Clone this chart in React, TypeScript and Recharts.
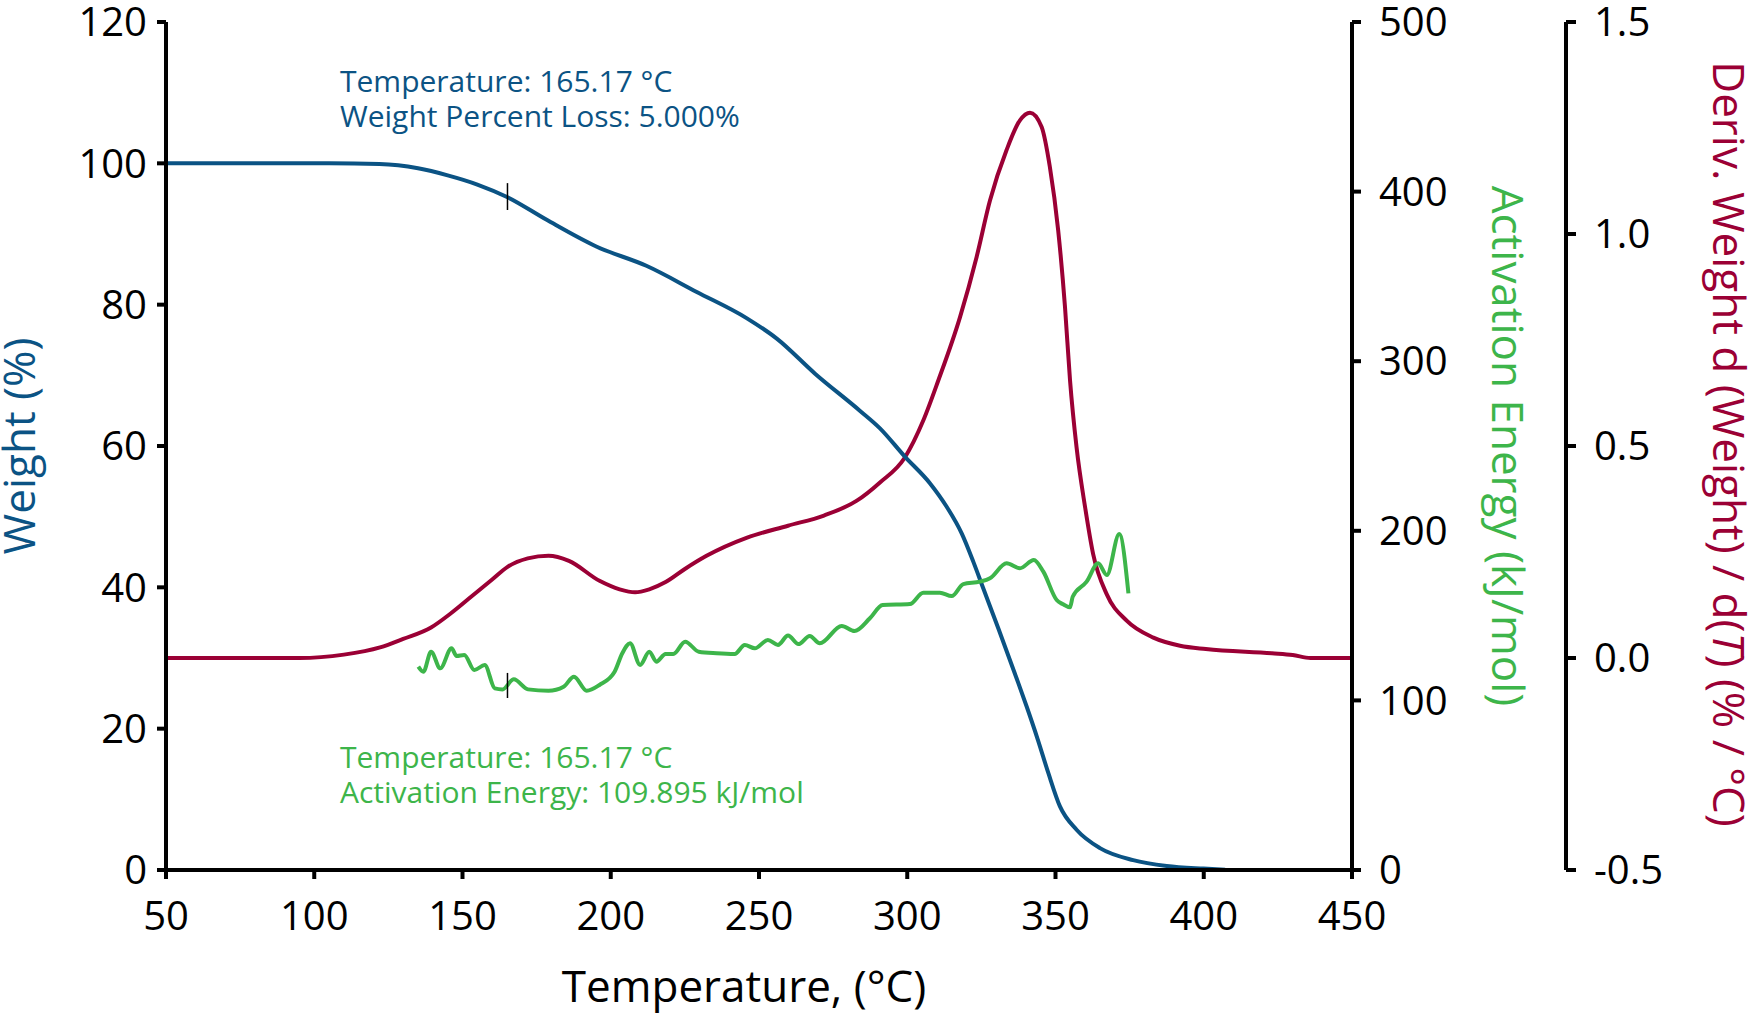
import React from "react";
import { ComposedChart, Line, XAxis, YAxis, ReferenceLine, Label } from "recharts";

const BLUE = "#0b5384";
const RED = "#9b0035";
const GREEN = "#3db54a";
const FONT = "'Open Sans', sans-serif";

const tempTicks = [50, 100, 150, 200, 250, 300, 350, 400, 450];
const weightTicks = [0, 20, 40, 60, 80, 100, 120];
const energyTicks = [0, 100, 200, 300, 400, 500];
const derivTicks = [-0.5, 0, 0.5, 1.0, 1.5];

// [temperature °C, weight %]
const weightCurve: [number, number][] = [
  [50, 100], [80, 100], [105, 100], [122, 99.9], [135, 99.3], [145, 98.3], [155, 97],
  [165.2, 95.2], [178.4, 92], [195.3, 88.2], [212, 85.5], [229, 81.8], [245.8, 78.1],
  [256, 75.2], [269, 70.2], [284, 65], [290.8, 62.5], [299.2, 58.5], [307.7, 54.7],
  [313.3, 51.4], [318.4, 47.6], [322.3, 43.6], [325.6, 39.9], [330.7, 34.2],
  [336.9, 27.1], [340.3, 23.1], [344, 18.5], [347.6, 13.7], [351.5, 9.0], [357.1, 5.7],
  [365, 3.1], [376.2, 1.4], [387.5, 0.57], [399.9, 0.2], [407.2, 0.05],
];

// [temperature °C, deriv. weight %/°C]
const derivCurve: [number, number][] = [
  [50, 0], [95, 0], [110, 0.008], [122.2, 0.025], [130, 0.045], [139.4, 0.072],
  [146, 0.105], [153, 0.145], [160, 0.185], [165.2, 0.215], [172, 0.235], [179, 0.241],
  [185.9, 0.229], [196.2, 0.182], [203, 0.162], [208.2, 0.155], [213, 0.162],
  [218.5, 0.179], [225, 0.21], [232.3, 0.241], [246, 0.284], [259.8, 0.312],
  [271.9, 0.336], [283, 0.371], [290.8, 0.414], [299.2, 0.473], [305.4, 0.56],
  [310.5, 0.655], [317.8, 0.804], [323.4, 0.946], [327.9, 1.079], [333.5, 1.198],
  [338, 1.268], [341.4, 1.286], [345.3, 1.253], [348.1, 1.158], [350.9, 1.009],
  [353.2, 0.828], [354.9, 0.655], [357.1, 0.497], [360, 0.355], [362.7, 0.245],
  [367.3, 0.15], [374, 0.088], [383, 0.048], [392, 0.029], [400.7, 0.021],
  [423, 0.011], [430, 0.007], [436, 0], [450, 0],
];

// [temperature °C, activation energy kJ/mol]
const energyCurve: [number, number][] = [
  [135.1, 119.9], [136.8, 116.9], [139.4, 128.7], [142.5, 118.9], [146.3, 130.7],
  [148, 126.2], [150.6, 126.8], [154, 117.9], [157.5, 120.9], [160.9, 107.1],
  [163.5, 106.5], [167.3, 112.4], [172.1, 106.5], [179, 105.7], [184.1, 108.1],
  [187.6, 114], [191.9, 105.7], [196.2, 109.1], [201.3, 116.9], [203.9, 127.8],
  [206.5, 133.7], [209.9, 120.9], [213, 128.7], [215.4, 122.8], [218.5, 127.4],
  [221.1, 127.4], [225.1, 134.6], [229.7, 128.7], [235.7, 127.8], [241.8, 127.4],
  [245.2, 132.7], [248.6, 130.7], [253, 135.6], [256.4, 132.7], [259.8, 138.2],
  [263.3, 133.2], [267.1, 138], [270.5, 133.7], [277.9, 143.9], [282.2, 140.9],
  [287.4, 148.4], [291.7, 156.2], [300.9, 156.8], [305.4, 163.5], [311, 163.5],
  [315, 161.5], [318.9, 168.6], [324.5, 170], [327.9, 172], [333.5, 180.8],
  [338, 177.9], [342.7, 182.8], [345.9, 175.9], [350.4, 159.2], [352.4, 156.8],
  [354.9, 154.9], [355.8, 161.1], [360.5, 170], [364.4, 180.8], [367.3, 173.9],
  [371.5, 198.1], [374.6, 163.1],
];

const markerTemp = 165.17;
const weightMarker = [97.2, 93.4];
const energyMarker = [116.2, 101.4];

const weightRows = weightCurve.map(([t, v]) => ({ t, weight: v }));
const derivRows = derivCurve.map(([t, v]) => ({ t, deriv: v }));
const energyRows = energyCurve.map(([t, v]) => ({ t, energy: v }));

const axisStroke = { stroke: "#000", strokeWidth: 4 };
const tickStyle = { fill: "#000", fontSize: 40, fontFamily: FONT };

const WeightLabel = ({ viewBox }: any) => {
  const x = viewBox.x + 35;
  const y = viewBox.y + viewBox.height / 2;
  return (
    <text x={x} y={y} transform={`rotate(-90 ${x} ${y})`} textAnchor="middle" fill={BLUE} fontSize={44} fontFamily={FONT}>
      Weight (%)
    </text>
  );
};

const EnergyLabel = ({ viewBox }: any) => {
  const x = viewBox.x + 140;
  const y = viewBox.y + viewBox.height / 2;
  return (
    <text x={x} y={y} transform={`rotate(90 ${x} ${y})`} textAnchor="middle" fill={GREEN} fontSize={44} fontFamily={FONT}>
      Activation Energy (kJ/mol)
    </text>
  );
};

const DerivLabel = ({ viewBox }: any) => {
  const x = viewBox.x + 147;
  const y = viewBox.y + viewBox.height / 2 - 2;
  return (
    <text x={x} y={y} transform={`rotate(90 ${x} ${y})`} textAnchor="middle" fill={RED} fontSize={44} fontFamily={FONT}>
      Deriv. Weight d (Weight) / d(<tspan fontStyle="italic">T</tspan>) (% / °C)
    </text>
  );
};

const TempLabel = ({ viewBox }: any) => {
  const x = viewBox.x + viewBox.width / 2 - 15;
  const y = 1002;
  return (
    <text x={x} y={y} textAnchor="middle" fill="#000" fontSize={44} fontFamily={FONT}>
      Temperature, (°C)
    </text>
  );
};

export default function App() {
  return (
    <div style={{ position: "absolute", left: 0, top: 0, width: 1750, height: 1019, background: "#fff", fontFamily: FONT }}>
      <ComposedChart width={1750} height={1019} margin={{ top: 22, right: 0, left: 0, bottom: 0 }}>
        <XAxis
          xAxisId="t"
          dataKey="t"
          type="number"
          domain={[50, 450]}
          ticks={tempTicks}
          interval={0}
          height={149}
          tickSize={9}
          tickMargin={23}
          axisLine={axisStroke}
          tickLine={axisStroke}
          tick={tickStyle}
          allowDataOverflow
        >
          <Label content={<TempLabel />} />
        </XAxis>
        <YAxis
          yAxisId="w"
          orientation="left"
          type="number"
          domain={[0, 120]}
          ticks={weightTicks}
          interval={0}
          width={166}
          tickSize={9}
          tickMargin={10}
          axisLine={axisStroke}
          tickLine={axisStroke}
          tick={tickStyle}
        >
          <Label content={<WeightLabel />} />
        </YAxis>
        <YAxis
          yAxisId="b"
          orientation="right"
          type="number"
          domain={[-0.5, 1.5]}
          ticks={derivTicks}
          interval={0}
          width={184}
          tickSize={10}
          tickMargin={18}
          axisLine={axisStroke}
          tickLine={axisStroke}
          tick={tickStyle}
          tickFormatter={(v: number) => v.toFixed(1)}
        >
          <Label content={<DerivLabel />} />
        </YAxis>
        <YAxis
          yAxisId="a"
          orientation="right"
          type="number"
          domain={[0, 500]}
          ticks={energyTicks}
          interval={0}
          width={214}
          tickSize={9}
          tickMargin={18}
          axisLine={axisStroke}
          tickLine={axisStroke}
          tick={tickStyle}
        >
          <Label content={<EnergyLabel />} />
        </YAxis>

        <Line
          xAxisId="t"
          yAxisId="b"
          data={derivRows}
          dataKey="deriv"
          type="monotone"
          stroke={RED}
          strokeWidth={4}
          dot={false}
          isAnimationActive={false}
        />
        <Line
          xAxisId="t"
          yAxisId="w"
          data={weightRows}
          dataKey="weight"
          type="monotone"
          stroke={BLUE}
          strokeWidth={4}
          dot={false}
          isAnimationActive={false}
        />
        <Line
          xAxisId="t"
          yAxisId="a"
          data={energyRows}
          dataKey="energy"
          type="monotone"
          stroke={GREEN}
          strokeWidth={4}
          dot={false}
          isAnimationActive={false}
        />

        <ReferenceLine
          xAxisId="t"
          yAxisId="w"
          segment={[{ x: markerTemp, y: weightMarker[0] }, { x: markerTemp, y: weightMarker[1] }]}
          stroke="#000"
          strokeWidth={1.5}
        />
        <ReferenceLine
          xAxisId="t"
          yAxisId="a"
          segment={[{ x: markerTemp, y: energyMarker[0] }, { x: markerTemp, y: energyMarker[1] }]}
          stroke="#000"
          strokeWidth={1.5}
        />
      </ComposedChart>

      <svg width={1750} height={1019} style={{ position: "absolute", left: 0, top: 0, pointerEvents: "none" }}>
        <g fontFamily={FONT} fontSize={30}>
          <text x={340} y={92} fill={BLUE}>Temperature: 165.17 °C</text>
          <text x={340} y={127} fill={BLUE}>Weight Percent Loss: 5.000%</text>
          <text x={340} y={768} fill={GREEN}>Temperature: 165.17 °C</text>
          <text x={340} y={803} fill={GREEN}>Activation Energy: 109.895 kJ/mol</text>
        </g>
      </svg>
    </div>
  );
}
